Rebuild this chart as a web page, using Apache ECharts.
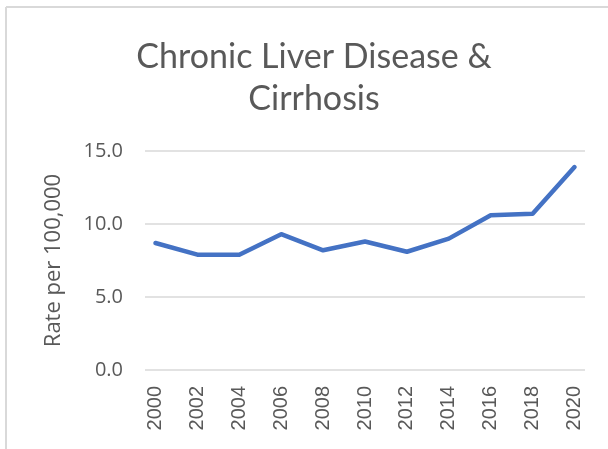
<!DOCTYPE html>
<html>
<head>
<meta charset="utf-8">
<script src="https://cdn.jsdelivr.net/npm/echarts@6/dist/echarts.min.js"></script>
<style>
html,body{margin:0;padding:0;background:#fff;}
#chart{width:608px;height:449px;}
</style>
</head>
<body>
<div id="chart"></div>
<script>
// Yearly categories; values read only at even years (odd years blank, line connects them)
const years = ['2000','2001','2002','2003','2004','2005','2006','2007','2008','2009','2010',
               '2011','2012','2013','2014','2015','2016','2017','2018','2019','2020'];
const rates = [8.7, null, 7.9, null, 7.9, null, 9.3, null, 8.2, null, 8.8,
               null, 8.1, null, 9.0, null, 10.6, null, 10.7, null, 13.9];
const yTicks = [0, 5, 10, 15];
const titleText = 'Chronic Liver Disease &\nCirrhosis';
const yAxisTitle = 'Rate per 100,000';

const chart = echarts.init(document.getElementById('chart'), null, {renderer: 'canvas'});
const textColor = '#595959';
chart.setOption({
  animation: false,
  backgroundColor: '#ffffff',
  graphic: [
    {type: 'line', shape: {x1: 6, y1: 7, x2: 6, y2: 449}, style: {stroke: '#d9d9d9', lineWidth: 2}},
    {type: 'line', shape: {x1: 6, y1: 7, x2: 608, y2: 7}, style: {stroke: '#d9d9d9', lineWidth: 2}}
  ],
  title: {
    text: titleText,
    left: 309,
    textAlign: 'center',
    top: 31,
    textStyle: {
      fontFamily: 'Lato',
      fontWeight: 'normal',
      fontSize: 34,
      color: textColor,
      lineHeight: 42
    }
  },
  grid: {left: 145, right: 23, top: 151, bottom: 79, containLabel: false},
  xAxis: {
    type: 'category',
    data: years,
    boundaryGap: true,
    axisLine: {show: false},
    axisTick: {show: false},
    axisLabel: {
      interval: 1,
      rotate: 90,
      margin: 16,
      color: textColor,
      fontFamily: 'Liberation Sans',
      fontSize: 20
    },
    splitLine: {show: false}
  },
  yAxis: {
    type: 'value',
    min: yTicks[0],
    max: yTicks[yTicks.length - 1],
    interval: 5,
    name: yAxisTitle,
    nameLocation: 'middle',
    nameGap: 80,
    nameRotate: 90,
    nameTextStyle: {color: textColor, fontFamily: 'Open Sans', fontSize: 22},
    axisLine: {show: false},
    axisTick: {show: false},
    axisLabel: {
      margin: 22,
      color: textColor,
      fontFamily: 'Open Sans',
      fontSize: 20,
      formatter: v => v.toFixed(1)
    },
    splitLine: {lineStyle: {color: '#d9d9d9', width: 1.5}}
  },
  series: [{
    type: 'line',
    data: rates,
    connectNulls: true,
    showSymbol: false,
    symbol: 'none',
    lineStyle: {color: '#4472C4', width: 4.5, cap: 'round', join: 'round'},
    itemStyle: {color: '#4472C4'}
  }]
});
</script>
</body>
</html>
